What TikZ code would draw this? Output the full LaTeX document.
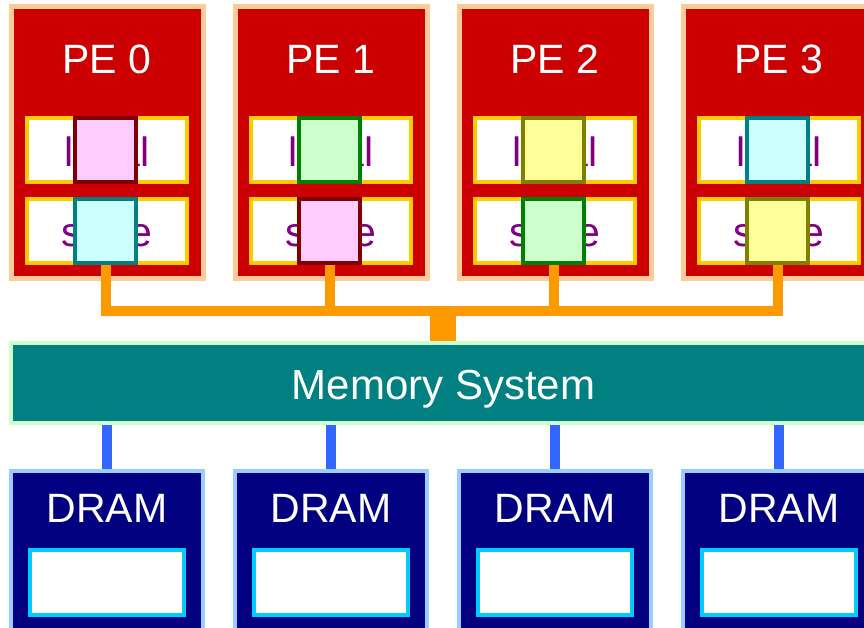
\documentclass[tikz,border=0pt]{standalone}
\usepackage{fontspec}
\setmainfont{Liberation Sans}
\definecolor{pered}{HTML}{CC0000}
\definecolor{peach}{HTML}{FFCC99}
\definecolor{gold}{HTML}{FFCC00}
\definecolor{txtpurple}{HTML}{800080}
\definecolor{pinkfill}{HTML}{FFCCFF}
\definecolor{pinkline}{HTML}{800000}
\definecolor{greenfill}{HTML}{CCFFCC}
\definecolor{greenline}{HTML}{008000}
\definecolor{yellowfill}{HTML}{FFFF99}
\definecolor{yellowline}{HTML}{808000}
\definecolor{cyanfill}{HTML}{CCFFFF}
\definecolor{cyanline}{HTML}{008080}
\definecolor{busorange}{HTML}{FF9900}
\definecolor{memteal}{HTML}{008080}
\definecolor{memline}{HTML}{CCFFCC}
\definecolor{linkblue}{HTML}{3366FF}
\definecolor{dramnavy}{HTML}{000080}
\definecolor{dramline}{HTML}{99CCFF}
\definecolor{bankcyan}{HTML}{00CCFF}
\begin{document}
\begin{tikzpicture}[x=1pt,y=-1pt,
  bigfont/.style={font=\fontsize{41}{49}\selectfont},
  pebox/.style={draw=peach,fill=pered,line width=5pt,minimum width=192pt,minimum height=272pt,inner sep=0pt},
  petext/.style={bigfont,text=white,inner sep=0pt,anchor=base},
  slot/.style={bigfont,draw=gold,fill=white,line width=4pt,minimum width=160pt,minimum height=64pt,inner sep=0pt,text=txtpurple,text height=32pt,text depth=0pt},
  cell/.style={line width=4pt,minimum width=61pt,minimum height=64pt,inner sep=0pt},
  pinkcell/.style={cell,draw=pinkline,fill=pinkfill},
  greencell/.style={cell,draw=greenline,fill=greenfill},
  yellowcell/.style={cell,draw=yellowline,fill=yellowfill},
  cyancell/.style={cell,draw=cyanline,fill=cyanfill},
  bus/.style={draw=busorange,line width=10pt},
  link/.style={draw=linkblue,line width=10pt},
  membox/.style={draw=memline,fill=memteal,line width=4pt,minimum width=865pt,minimum height=80pt,inner sep=0pt,text=white,font=\fontsize{42}{50}\selectfont,text height=32pt,text depth=0pt},
  dram/.style={draw=dramline,fill=dramnavy,line width=4pt,minimum width=192pt,minimum height=179pt,inner sep=0pt},
  bank/.style={draw=bankcyan,fill=white,line width=4pt,minimum width=154pt,minimum height=65pt,inner sep=0pt}]
  \useasboundingbox (0,0) rectangle (864,628);
  \clip (0,0) rectangle (864,628);

  % PE 0
  \begin{scope}[shift={(0,0)}]
    \node[pebox] (pe0) at (107,142.5) {};
    \node[petext] (pe0t) at (107,74) {PE 0};
    \node[slot] (loc0) at (107,150.5) {local};
    \node[slot] (sto0) at (107,231) {store};
    \node[pinkcell] (ca0) at (105.5,150.5) {};
    \node[cyancell] (cb0) at (105.5,231) {};
  \end{scope}

  % PE 1
  \begin{scope}[shift={(224,0)}]
    \node[pebox] (pe1) at (107,142.5) {};
    \node[petext] (pe1t) at (107,74) {PE 1};
    \node[slot] (loc1) at (107,150.5) {local};
    \node[slot] (sto1) at (107,231) {store};
    \node[greencell] (ca1) at (105.5,150.5) {};
    \node[pinkcell] (cb1) at (105.5,231) {};
  \end{scope}

  % PE 2
  \begin{scope}[shift={(448,0)}]
    \node[pebox] (pe2) at (107,142.5) {};
    \node[petext] (pe2t) at (107,74) {PE 2};
    \node[slot] (loc2) at (107,150.5) {local};
    \node[slot] (sto2) at (107,231) {store};
    \node[yellowcell] (ca2) at (105.5,150.5) {};
    \node[greencell] (cb2) at (105.5,231) {};
  \end{scope}

  % PE 3
  \begin{scope}[shift={(672,0)}]
    \node[pebox] (pe3) at (107,142.5) {};
    \node[petext] (pe3t) at (107,74) {PE 3};
    \node[slot] (loc3) at (107,150.5) {local};
    \node[slot] (sto3) at (107,231) {store};
    \node[cyancell] (ca3) at (105.5,150.5) {};
    \node[yellowcell] (cb3) at (105.5,231) {};
  \end{scope}

  % Memory system
  \node[membox] (mem) at (443.5,383) {Memory System};

  % Bus
  \coordinate (hub) at (443,310.5);
  \draw[bus] (cb0.south) |- (hub);
  \draw[bus] (cb1.south) |- (hub);
  \draw[bus] (cb2.south) |- (hub);
  \draw[bus] (cb3.south) |- (hub);
  \draw[bus,line width=26pt] (hub) -- (hub |- mem.north);

  % DRAM banks
  \node[dram] (dram0) at (107,560.5) {};
  \node[dram] (dram1) at (331,560.5) {};
  \node[dram] (dram2) at (555,560.5) {};
  \node[dram] (dram3) at (779,560.5) {};
  \node[petext] (dram0t) at (107,522) {DRAM};
  \node[petext] (dram1t) at (331,522) {DRAM};
  \node[petext] (dram2t) at (555,522) {DRAM};
  \node[petext] (dram3t) at (779,522) {DRAM};
  \node[bank] (bank0) at (107,582.5) {};
  \node[bank] (bank1) at (331,582.5) {};
  \node[bank] (bank2) at (555,582.5) {};
  \node[bank] (bank3) at (779,582.5) {};

  % Links
  \draw[link] (dram0.north |- mem.south) -- (dram0.north);
  \draw[link] (dram1.north |- mem.south) -- (dram1.north);
  \draw[link] (dram2.north |- mem.south) -- (dram2.north);
  \draw[link] (dram3.north |- mem.south) -- (dram3.north);
\end{tikzpicture}
\end{document}
